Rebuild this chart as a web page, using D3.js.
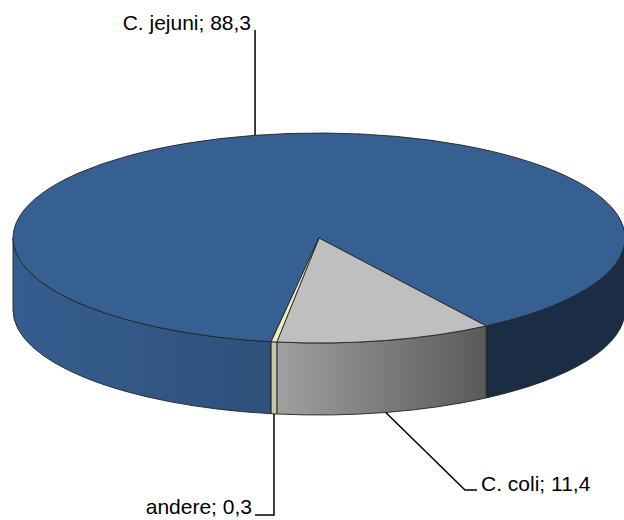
<!DOCTYPE html>
<html>
<head>
<meta charset="utf-8">
<script src="https://cdn.jsdelivr.net/npm/d3@7"></script>
<style>
  html, body { margin: 0; padding: 0; background: #ffffff; }
  svg { display: block; }
  text { font-family: "Liberation Sans", Arial, Helvetica, sans-serif; fill: #000; }
</style>
</head>
<body>
<svg id="chart" width="624" height="520"></svg>
<script>
// Species shares (%)
const categories = ["C. jejuni", "C. coli", "andere"];
const values = [88.3, 11.4, 0.3];
const colors = ["#376092", "#bfbfbf", "#eeeec4"];

// Disc geometry (projected ellipse + wall height)
const W = 624, H = 520;
const cx = 319, cy = 238, rx = 306, ry = 105, depth = 72;
const startDeg = 189.0; // clockwise from 12 o'clock

// Label placement: text position and leader shape for each slice
const labelLayout = [
  { anchor: "top",    text: a => [a[0] - 4, 30], anchorText: "end",   path: a => [[a[0], 30], a] },
  { anchor: "bottom", text: a => [481, 491],     anchorText: "start", path: a => [a, [465, 490], [477, 490]] },
  { anchor: "bottom", text: a => [252, 514],     anchorText: "end",   path: a => [a, [a[0], 515], [255, 515]] }
];

const fmt = d3.formatLocale({ decimal: ",", thousands: ".", grouping: [3], currency: ["", ""] }).format(".1f");

const svg = d3.select("#chart");
const defs = svg.append("defs");

const pie = d3.pie().sort(null)
  .startAngle(startDeg * Math.PI / 180)
  .endAngle(startDeg * Math.PI / 180 + 2 * Math.PI);
const arcs = pie(values);

// Parametric angle t: measured clockwise on screen from +x
const toT = a => a - Math.PI / 2;
const pt = (t, dz = 0) => [cx + rx * Math.cos(t), cy + ry * Math.sin(t) + dz];

// Side lighting: light falls from the front-left
const shade = d3.scaleLinear()
  .domain([0, 57, 75, 98, 130, 180].map(d => d * Math.PI / 180))
  .range([0.47, 0.47, 0.62, 0.84, 0.93, 0.98])
  .clamp(true);
const shaded = (base, t) => {
  const c = d3.rgb(base), f = shade(t);
  return d3.rgb(c.r * f, c.g * f, c.b * f).formatHex();
};

const outline = "#222222";
const walls = svg.append("g");
const tops = svg.append("g");
let gid = 0;

arcs.forEach((d, i) => {
  const t0 = toT(d.startAngle), t1 = toT(d.endAngle);
  // visible wall = part of the slice lying in the front half [2πk, 2πk+π]
  for (let k = -1; k <= 2; k++) {
    const lo = Math.max(t0, 2 * Math.PI * k), hi = Math.min(t1, 2 * Math.PI * k + Math.PI);
    if (hi <= lo) continue;
    const xl = pt(hi)[0], xr = pt(lo)[0];
    const id = "wall" + (gid++);
    const grad = defs.append("linearGradient").attr("id", id)
      .attr("gradientUnits", "userSpaceOnUse")
      .attr("x1", xl).attr("x2", xr).attr("y1", 0).attr("y2", 0);
    const n = 24;
    d3.range(n + 1).forEach(j => {
      const t = hi - (hi - lo) * j / n;
      const x = pt(t)[0];
      grad.append("stop")
        .attr("offset", xr > xl ? (x - xl) / (xr - xl) : 0)
        .attr("stop-color", shaded(colors[i], t - 2 * Math.PI * k));
    });
    const a = pt(lo), b = pt(hi), bd = pt(hi, depth), ad = pt(lo, depth);
    walls.append("path")
      .attr("d", `M${a}A${rx},${ry} 0 0 1 ${b}L${bd}A${rx},${ry} 0 0 0 ${ad}Z`)
      .attr("fill", `url(#${id})`).attr("stroke", outline).attr("stroke-width", 0.9)
      .attr("stroke-linejoin", "round");
  }

  const p0 = pt(t0), p1 = pt(t1);
  const large = (t1 - t0) > Math.PI ? 1 : 0;
  tops.append("path")
    .attr("d", `M${cx},${cy}L${p0}A${rx},${ry} 0 ${large} 1 ${p1}Z`)
    .attr("fill", colors[i]).attr("stroke", outline).attr("stroke-width", 0.9)
    .attr("stroke-linejoin", "round");
});

// Data labels with leader lines
const labels = svg.append("g");
arcs.forEach((d, i) => {
  const L = labelLayout[i];
  const tm = toT((d.startAngle + d.endAngle) / 2);
  const anchor = L.anchor === "top" ? pt(tm) : pt(tm, depth);
  labels.append("path")
    .attr("d", d3.line()(L.path(anchor)))
    .attr("fill", "none").attr("stroke", "#000").attr("stroke-width", 1.5);
  const tp = L.text(anchor);
  labels.append("text")
    .attr("x", tp[0]).attr("y", tp[1])
    .attr("text-anchor", L.anchorText)
    .attr("font-size", 21)
    .text(`${categories[i]}; ${fmt(values[i])}`);
});
</script>
</body>
</html>
